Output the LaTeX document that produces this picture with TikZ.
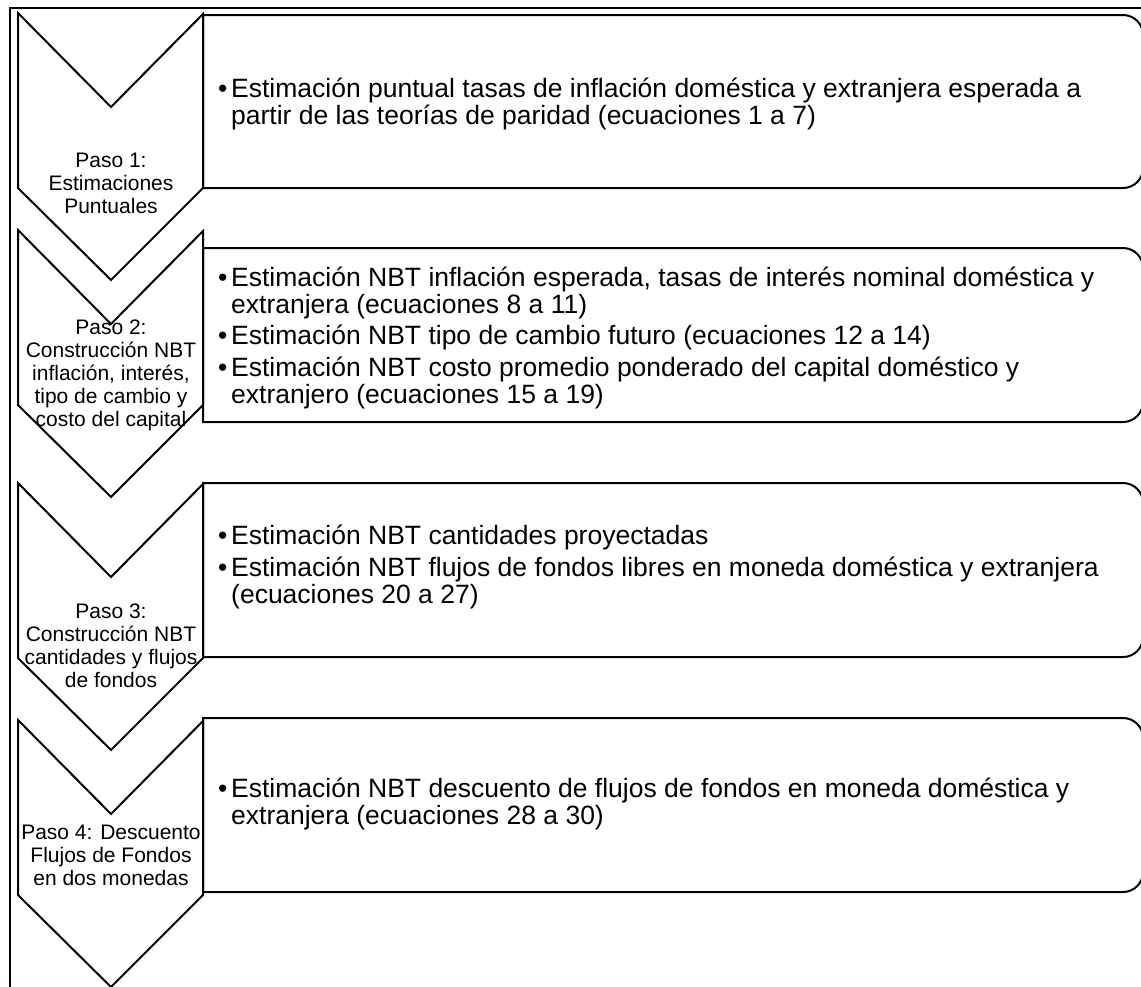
\documentclass[tikz,border=0pt]{standalone}
\usepackage{fontspec}
\setmainfont{Liberation Sans}
\usepackage{tikz}

\tikzset{
  chev/.style={line width=2pt, fill=white, line join=miter},
  caja/.style={line width=2pt, fill=white},
  pasotxt/.style={align=center, inner sep=0pt, font=\fontsize{21}{23}\selectfont},
  dettxt/.style={anchor=west, inner sep=0pt, font=\fontsize{26.5}{26}\selectfont}
}
\newcommand{\bul}{\makebox[13pt][l]{•}}

\begin{document}
\begin{tikzpicture}[x=1pt,y=-1pt]

	\useasboundingbox (0,0) rectangle (1141,986);
	\draw[line width=2pt] (1150,8) -- (10,8) -- (10,995);

	% cajas de detalle
	\foreach \t/\b in {15/188, 248/422, 483/657, 718/892}
		\draw[caja] (203,\b) -- (203,\t) [rounded corners=20pt] -- (1143,\t) -- (1143,\b) [sharp corners] -- cycle;

	% chevrones
	\foreach \t in {13, 230, 483, 720}
		\draw[chev] (18,\t) -- (111,\t+94) -- (203,\t+1) -- (203,\t+175) -- (111,\t+267) -- (18,\t+175) -- cycle;

	\node[pasotxt] (paso1) at (111,183) {Paso 1:\\Estimaciones\\Puntuales};
	\node[pasotxt] (paso2) at (111,375) {Paso 2:\\Construcción NBT\\inflación, interés,\\tipo de cambio y\\costo del capital};
	\node[pasotxt] (paso3) at (111,646) {Paso 3:\\Construcción NBT\\cantidades y flujos\\de fondos};
	\node[pasotxt] (paso4) at (111,855) {Paso 4: Descuento\\Flujos de Fondos\\en dos monedas};

	\node[dettxt] (det1) at (218,105) {\begin{tabular}{@{}l@{}l@{}}
		\bul & Estimación puntual tasas de inflación doméstica y extranjera esperada a\\
		& partir de las teorías de paridad (ecuaciones 1 a 7)
	\end{tabular}};
	\node[dettxt] (det2) at (218,339) {\begin{tabular}{@{}l@{}l@{}}
		\bul & Estimación NBT inflación esperada, tasas de interés nominal doméstica y\\
		& extranjera (ecuaciones 8 a 11)\\[4pt]
		\bul & Estimación NBT tipo de cambio futuro (ecuaciones 12 a 14)\\[4pt]
		\bul & Estimación NBT costo promedio ponderado del capital doméstico y\\
		& extranjero (ecuaciones 15 a 19)
	\end{tabular}};
	\node[dettxt] (det3) at (218,568) {\begin{tabular}{@{}l@{}l@{}}
		\bul & Estimación NBT cantidades proyectadas\\[4pt]
		\bul & Estimación NBT flujos de fondos libres en moneda doméstica y extranjera\\
		& (ecuaciones 20 a 27)
	\end{tabular}};
	\node[dettxt] (det4) at (218,805) {\begin{tabular}{@{}l@{}l@{}}
		\bul & Estimación NBT descuento de flujos de fondos en moneda doméstica y\\
		& extranjera (ecuaciones 28 a 30)
	\end{tabular}};

\end{tikzpicture}
\end{document}
